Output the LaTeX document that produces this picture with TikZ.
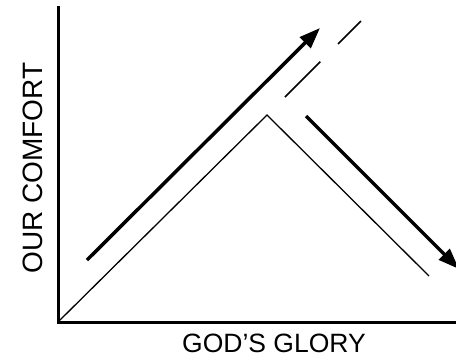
\documentclass[tikz,border=0pt]{standalone}
\usepackage{fontspec}
\setmainfont{Liberation Sans}
\usetikzlibrary{arrows.meta}
\begin{document}
\begin{tikzpicture}[x=1pt,y=-1pt,
  axis/.style={line width=3pt},
  curve/.style={line width=1.3pt},
  bigarrow/.style={line width=3.5pt,-{Triangle[length=21pt,width=15pt]}},
  dashline/.style={line width=1.6pt,dash pattern=on 50pt off 25pt},
  lbl/.style={inner sep=0pt}]
\useasboundingbox (0,0) rectangle (456,357);
\coordinate (O) at (58,322);
\coordinate (ytop) at (58,6);
\coordinate (xend) at (456,322);
\coordinate (apex) at (267,115);
\coordinate (cend) at (429,276);
\coordinate (a1s) at (87,260);
\coordinate (a1e) at (320,28);
\coordinate (a2s) at (306,116);
\coordinate (a2e) at (459,269);
\coordinate (ds) at (285,97);
\coordinate (de) at (361,21);
\draw[axis] (ytop) -- (O) -- (xend);
\draw[curve] (O) -- (apex) -- (cend);
\draw[bigarrow] (a1s) -- (a1e);
\draw[bigarrow] (a2s) -- (a2e);
\draw[dashline] (ds) -- (de);
\node[lbl,rotate=90,font=\fontsize{28}{32}\selectfont] (ylab) at (33,168) {OUR COMFORT};
\node[lbl,font=\fontsize{26.5}{30}\selectfont] (xlab) at (274,343) {GOD’S GLORY};
\end{tikzpicture}
\end{document}
